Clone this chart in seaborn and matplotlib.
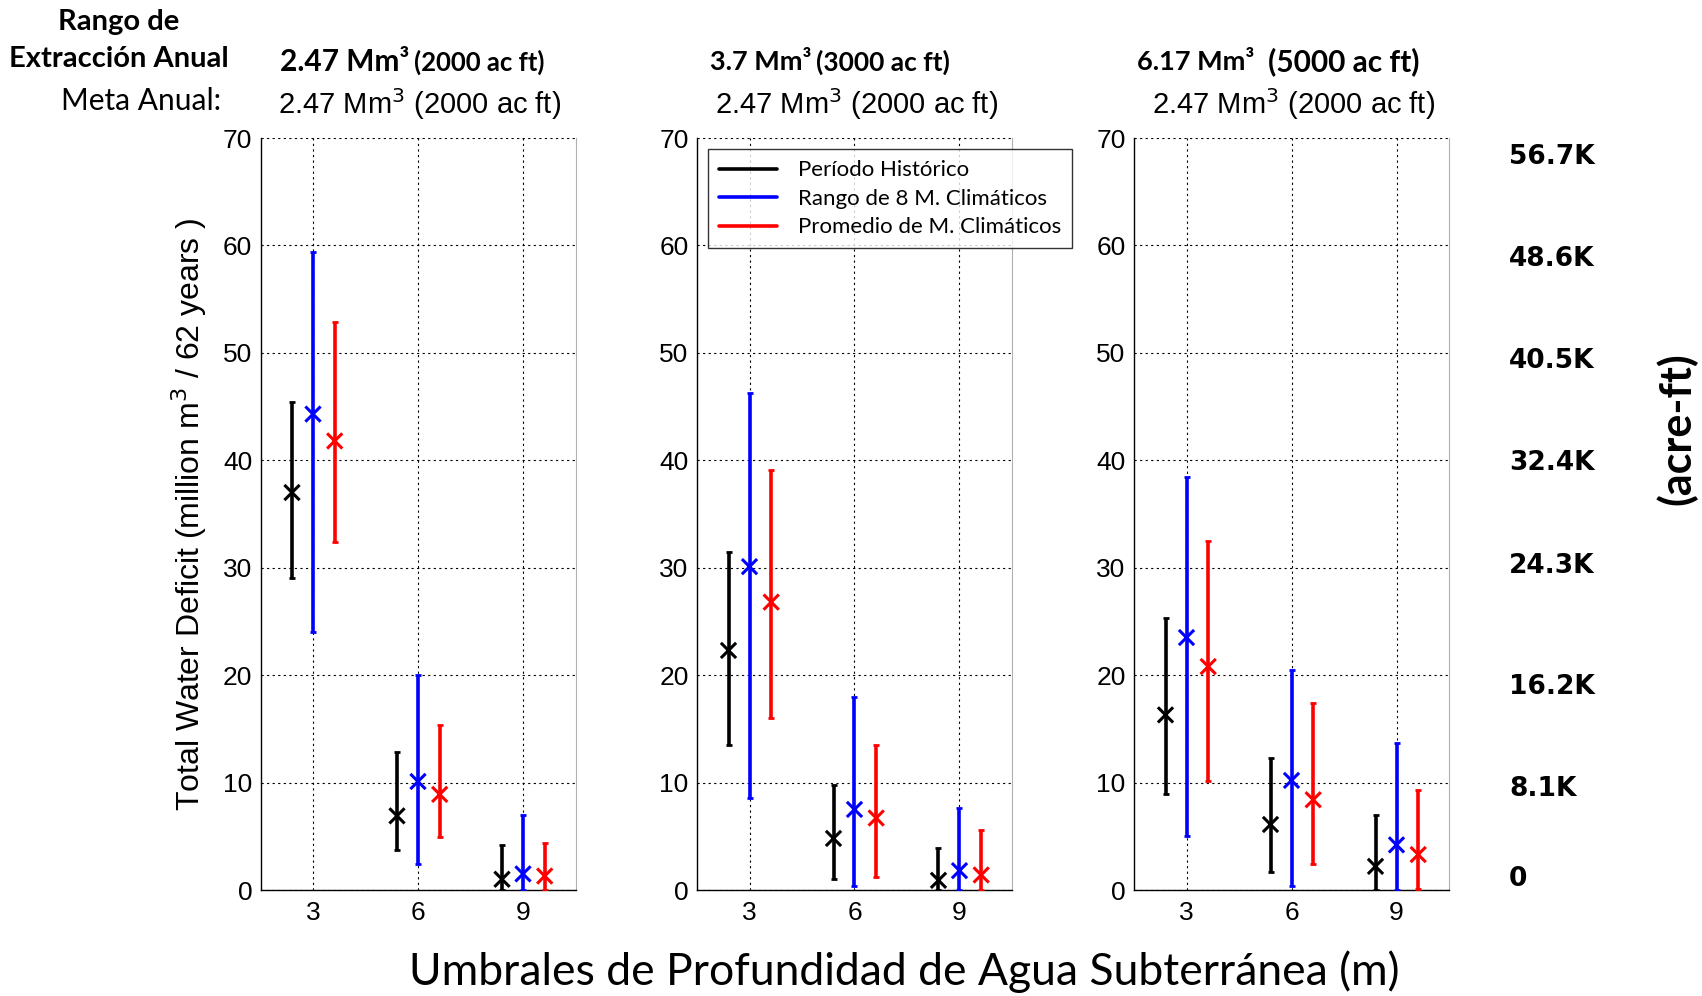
import matplotlib
matplotlib.use("Agg")
import matplotlib.pyplot as plt
from matplotlib.lines import Line2D
import numpy as np
import pandas as pd
import seaborn as sns

# depth thresholds (m)
thresholds = [3, 6, 9]
series = ["Período Histórico", "Rango de 8 M. Climáticos", "Promedio de M. Climáticos"]
colors = ["black", "blue", "red"]

# panel headers (volume part, acre-ft part)
extraction_vol = ["2.47 Mm³", "3.7 Mm³", "6.17 Mm³"]
extraction_af = ["(2000 ac ft)", "(3000 ac ft)", "(5000 ac ft)"]
goal = "2.47 Mm$^3$ (2000 ac ft)"

# central values / lower / upper, per panel -> per series -> per threshold
center = [
    [[37.0, 6.9, 1.0], [44.3, 10.1, 1.5], [41.8, 8.9, 1.3]],
    [[22.3, 4.8, 0.9], [30.1, 7.5, 1.8], [26.8, 6.7, 1.4]],
    [[16.3, 6.1, 2.2], [23.5, 10.2, 4.2], [20.8, 8.4, 3.3]],
]
low = [
    [[29.0, 3.7, 0.0], [24.0, 2.4, 0.0], [32.4, 4.9, 0.0]],
    [[13.5, 1.0, 0.0], [8.6, 0.4, 0.0], [16.0, 1.2, 0.0]],
    [[8.9, 1.7, 0.0], [5.0, 0.4, 0.0], [10.1, 2.4, 0.1]],
]
high = [
    [[45.4, 12.8, 4.2], [59.4, 20.0, 7.0], [52.9, 15.4, 4.4]],
    [[31.5, 9.8, 3.9], [46.3, 18.0, 7.6], [39.1, 13.5, 5.6]],
    [[25.3, 12.3, 7.0], [38.4, 20.5, 13.7], [32.5, 17.4, 9.3]],
]
offsets = [-0.6, 0.0, 0.62]

acft_labels = ["56.7K", "48.6K", "40.5K", "32.4K", "24.3K", "16.2K", "8.1K", "0"]
acft_label_y = [157, 259, 361, 463, 566, 687, 789, 879]  # pixel rows (from top)

sns.set_style("white")
plt.rcParams["font.family"] = ["Liberation Sans", "DejaVu Sans"]
plt.rcParams.update({"text.color": "black", "axes.labelcolor": "black",
                     "xtick.color": "black", "ytick.color": "black"})

W, H = 1702, 996
fig = plt.figure(figsize=(W / 100, H / 100), dpi=100)

lefts = [260.5, 697, 1134]
ax_w = 315
top_px, bot_px = 138, 890

rows = []
for p in range(3):
    for s in range(3):
        for t, thr in enumerate(thresholds):
            rows.append(dict(panel=p, series=series[s], x=thr + offsets[s],
                             y=center[p][s][t], lo=low[p][s][t], hi=high[p][s][t]))
df = pd.DataFrame(rows)

axes = []
for p in range(3):
    ax = fig.add_axes([lefts[p] / W, 1 - bot_px / H, ax_w / W, (bot_px - top_px) / H])
    axes.append(ax)
    sub = df[df.panel == p]
    for s, name in enumerate(series):
        d = sub[sub.series == name]
        ax.errorbar(d.x, d.y, yerr=[d.y - d.lo, d.hi - d.y], fmt="none",
                    ecolor=colors[s], elinewidth=2.6, capsize=2.5, capthick=2,
                    zorder=3)
    sns.scatterplot(data=sub, x="x", y="y", hue="series", palette=colors,
                    hue_order=series, marker="x", s=120, linewidth=2.2,
                    legend=False, ax=ax, zorder=4)
    ax.set_xlim(1.5, 10.5)
    ax.set_ylim(0, 70)
    ax.set_xticks(thresholds)
    ax.set_yticks(range(0, 71, 10))
    ax.set_xlabel("")
    ax.set_ylabel("")
    ax.grid(True, color="black", linestyle=(0, (2, 3)), linewidth=0.8)
    ax.tick_params(axis="both", labelsize=19, length=4, direction="in", width=0.8)
    ax.tick_params(axis="x", pad=8)
    ax.tick_params(axis="y", pad=6)
    for side in ["left", "bottom"]:
        ax.spines[side].set_color("black")
        ax.spines[side].set_linewidth(1.0)
    ax.spines["top"].set_visible(False)
    ax.spines["right"].set_color("#b0b0b0")

    cx = (lefts[p] + ax_w / 2) / W
    fig.text(cx + 0.001, 1 - 104 / H, goal, ha="center", va="center", fontsize=21)

# bold two-part headers above each panel
head_left = [280, 710, 1137]
vol_size = [21.5, 19.5, 19.5]
af_size = [18.5, 19, 21.5]
af_gap = [5, 5, 14]
fig.canvas.draw()
renderer = fig.canvas.get_renderer()
for p in range(3):
    t1 = fig.text(head_left[p] / W, 1 - 62 / H, extraction_vol[p], ha="left", va="center",
                  fontsize=vol_size[p], fontweight="bold", family="Lato")
    bb = t1.get_window_extent(renderer)
    fig.text((bb.x1 + af_gap[p]) / W, 1 - 62 / H, extraction_af[p], ha="left", va="center",
             fontsize=af_size[p], fontweight="bold", family="Lato")

axes[0].set_ylabel("Total Water Deficit (million m$^3$ / 62 years )", fontsize=23, labelpad=10)

handles = [Line2D([], [], color=c, linewidth=2.6) for c in colors]
axes[1].legend(handles, series, loc="upper left", bbox_to_anchor=(0.035, 0.985),
               borderaxespad=0, frameon=True, fancybox=False, edgecolor="black",
               prop={"family": "Lato", "size": 16}, handlelength=2.6,
               labelspacing=0.38, borderpad=0.5, handletextpad=0.95)

fig.text(119 / W, 1 - 22 / H, "Rango de", ha="center", va="center",
         fontsize=21, fontweight="bold", family="Lato")
fig.text(119 / W, 1 - 59 / H, "Extracción Anual", ha="center", va="center",
         fontsize=21, fontweight="bold", family="Lato")
fig.text(141 / W, 1 - 101 / H, "Meta Anual:", ha="center", va="center",
         fontsize=21.5, family="Lato")

fig.text(904 / W, 1 - 972 / H, "Umbrales de Profundidad de Agua Subterránea (m)",
         ha="center", va="center", fontsize=32, family="Lato")

for lab, yp in zip(acft_labels, acft_label_y):
    fig.text(1509 / W, 1 - yp / H, lab, ha="left", va="center",
             fontsize=19, fontweight="bold", family="DejaVu Sans")
fig.text(1677 / W, 1 - 429 / H, "(acre-ft)", ha="center", va="center", rotation=90,
         fontsize=31, fontweight="bold", family="Lato")

fig.savefig("out.png", dpi=100, facecolor="white")
